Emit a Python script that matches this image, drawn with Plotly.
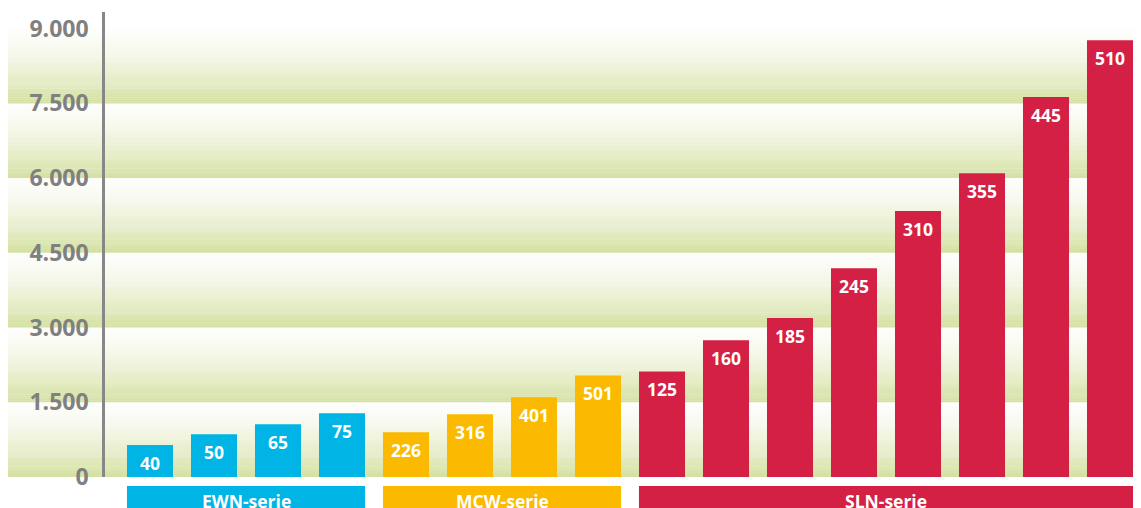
import plotly.graph_objects as go

# ---- data ----
series_names = ["EWN-serie", "MCW-serie", "SLN-serie"]
series_colors = ["#00b5e5", "#fbba00", "#d42045"]
ewn_models = ["40", "50", "65", "75"]
ewn_values = [640, 860, 1060, 1280]
mcw_models = ["226", "316", "401", "501"]
mcw_values = [900, 1260, 1600, 2040]
sln_models = ["125", "160", "185", "245", "310", "355", "445", "510"]
sln_values = [2120, 2745, 3190, 4190, 5340, 6100, 7630, 8770]
y_ticks = [0, 1500, 3000, 4500, 6000, 7500, 9000]

groups = [(series_names[0], ewn_models, ewn_values, series_colors[0]),
          (series_names[1], mcw_models, mcw_values, series_colors[1]),
          (series_names[2], sln_models, sln_values, series_colors[2])]

# page body has an 8px margin, so the figure is 8px smaller than the window
Y_MAX = 9335
W, H = 1133, 500
ML, MR, MT, MB = 97, 0, 4, 31
BAND_LEFT_PX = 0
PX_PER_CAT = 64
FIRST_CENTER_PX = 142

fig = go.Figure()

annotations = []
shapes = []
plot_h = H - MT - MB
idx = 0
for name, models, values, color in groups:
    cats = [f"{name} {m}" for m in models]
    fig.add_trace(go.Bar(
        x=cats, y=values, marker=dict(color=color, line=dict(width=0)),
        name=name, hoverinfo="skip", showlegend=False))
    for c, m, v in zip(cats, models, values):
        annotations.append(dict(
            x=c, y=v, xref="x", yref="y", text=f"<b>{m}</b>", showarrow=False,
            yanchor="top", yshift=-4,
            font=dict(family="Open Sans", size=17.5, color="white")))
    first, last = idx, idx + len(models) - 1
    half = 0.36
    shapes.append(dict(type="rect", xref="x", yref="paper",
                       x0=first - half, x1=last + half,
                       y0=-(MB + 5) / plot_h, y1=-9 / plot_h,
                       fillcolor=color, line=dict(width=0), layer="above"))
    annotations.append(dict(
        x=(first + last) / 2, y=-24 / plot_h, xref="x", yref="paper",
        text=f"<b>{name}</b>", showarrow=False, yanchor="middle",
        font=dict(family="Open Sans", size=17.5, color="white")))
    idx += len(models)

# gradient bands (white at top -> green at bottom of each band)
green = (211, 224, 160)
white = (253, 253, 251)
N = 40
plot_w = W - ML - MR
x0_paper = -(ML - BAND_LEFT_PX) / plot_w
for lo, hi in zip(y_ticks[:-1], y_ticks[1:]):
    step = (hi - lo) / N
    for k in range(N):
        t = (k + 0.5) / N  # 0 bottom, 1 top
        g = (1 - t) ** 1.5
        col = tuple(round(white[j] + (green[j] - white[j]) * g) for j in range(3))
        a = lo + k * step
        b = min(hi, a + step * 1.15)
        shapes.append(dict(type="rect", xref="paper", yref="paper",
                           x0=x0_paper, x1=1, y0=a / Y_MAX, y1=b / Y_MAX,
                           fillcolor="rgb(%d,%d,%d)" % col,
                           line=dict(width=0), layer="below"))

x_lo = (ML - FIRST_CENTER_PX) / PX_PER_CAT
x_hi = (W - MR - FIRST_CENTER_PX) / PX_PER_CAT

fig.update_layout(
    width=W, height=H,
    margin=dict(l=ML, r=MR, t=MT, b=MB, pad=0),
    paper_bgcolor="white", plot_bgcolor="rgba(0,0,0,0)",
    bargap=0.281, barmode="group",
    separators=",.",
    showlegend=False,
    shapes=shapes, annotations=annotations,
    xaxis=dict(type="category", range=[x_lo, x_hi], showticklabels=False,
               showgrid=False, zeroline=False, showline=False, fixedrange=True),
    yaxis=dict(range=[0, Y_MAX], tickvals=y_ticks, tickformat=",",
               showgrid=False, zeroline=False, showline=True,
               linecolor="#878787", linewidth=2.5, ticks="",
               ticklabelstandoff=9,
               tickfont=dict(family="Open Sans", size=23, color="#808080",
                             weight="bold"),
               fixedrange=True),
)

fig.write_html("out.html", config={"displayModeBar": False})
